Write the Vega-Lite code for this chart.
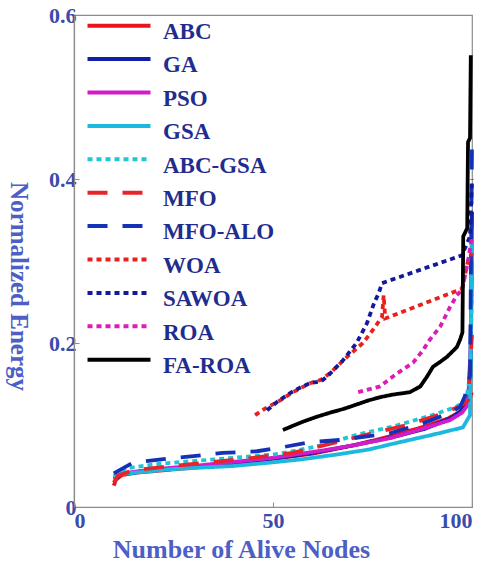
{
  "$schema": "https://vega.github.io/schema/vega-lite/v6.json",
  "width": 398,
  "height": 492,
  "autosize": {"type": "none"},
  "padding": {"left": 74, "top": 15, "right": 8, "bottom": 55},
  "background": "white",
  "config": {
    "font": "Liberation Serif",
    "view": {"stroke": "#8c8c8c", "strokeWidth": 1.2},
    "axis": {
      "grid": false,
      "domainColor": "#8c8c8c",
      "domainWidth": 1.2,
      "tickColor": "#8c8c8c",
      "tickSize": -5,
      "labelFont": "Liberation Serif",
      "labelFontWeight": "bold",
      "labelFontSize": 22,
      "labelColor": "#3b4bab",
      "titleFont": "Liberation Serif",
      "titleFontWeight": "bold",
      "titleFontSize": 25,
      "titleColor": "#4d5fc4"
    }
  },
  "data": {
    "values": [
      {"m": "ABC", "x": 10, "y": 0.026}, {"m": "ABC", "x": 10.5, "y": 0.033}, {"m": "ABC", "x": 12, "y": 0.039}, {"m": "ABC", "x": 16, "y": 0.042}, {"m": "ABC", "x": 23, "y": 0.045}, {"m": "ABC", "x": 30, "y": 0.048}, {"m": "ABC", "x": 40, "y": 0.053}, {"m": "ABC", "x": 52, "y": 0.06}, {"m": "ABC", "x": 60, "y": 0.065}, {"m": "ABC", "x": 71, "y": 0.076}, {"m": "ABC", "x": 80, "y": 0.087}, {"m": "ABC", "x": 88, "y": 0.098}, {"m": "ABC", "x": 94, "y": 0.108}, {"m": "ABC", "x": 97, "y": 0.116}, {"m": "ABC", "x": 98.8, "y": 0.127}, {"m": "ABC", "x": 99.6, "y": 0.135}, {"m": "ABC", "x": 100, "y": 0.14},
      {"m": "GA", "x": 10, "y": 0.034}, {"m": "GA", "x": 12, "y": 0.04}, {"m": "GA", "x": 20, "y": 0.045}, {"m": "GA", "x": 30, "y": 0.049}, {"m": "GA", "x": 40, "y": 0.054}, {"m": "GA", "x": 50, "y": 0.059}, {"m": "GA", "x": 60, "y": 0.066}, {"m": "GA", "x": 70, "y": 0.075}, {"m": "GA", "x": 80, "y": 0.085}, {"m": "GA", "x": 88, "y": 0.095}, {"m": "GA", "x": 94.5, "y": 0.108}, {"m": "GA", "x": 97.5, "y": 0.118}, {"m": "GA", "x": 99, "y": 0.13}, {"m": "GA", "x": 99.6, "y": 0.16}, {"m": "GA", "x": 100, "y": 0.36},
      {"m": "PSO", "x": 10, "y": 0.035}, {"m": "PSO", "x": 12, "y": 0.041}, {"m": "PSO", "x": 20, "y": 0.046}, {"m": "PSO", "x": 30, "y": 0.05}, {"m": "PSO", "x": 40, "y": 0.055}, {"m": "PSO", "x": 50, "y": 0.06}, {"m": "PSO", "x": 62.6, "y": 0.069}, {"m": "PSO", "x": 70, "y": 0.075}, {"m": "PSO", "x": 79.4, "y": 0.084}, {"m": "PSO", "x": 88, "y": 0.096}, {"m": "PSO", "x": 94.5, "y": 0.106}, {"m": "PSO", "x": 97.5, "y": 0.115}, {"m": "PSO", "x": 99, "y": 0.125}, {"m": "PSO", "x": 99.7, "y": 0.2}, {"m": "PSO", "x": 100, "y": 0.3},
      {"m": "GSA", "x": 10, "y": 0.036}, {"m": "GSA", "x": 11.5, "y": 0.04}, {"m": "GSA", "x": 24, "y": 0.046}, {"m": "GSA", "x": 40, "y": 0.05}, {"m": "GSA", "x": 49, "y": 0.054}, {"m": "GSA", "x": 57, "y": 0.058}, {"m": "GSA", "x": 66, "y": 0.064}, {"m": "GSA", "x": 74, "y": 0.07}, {"m": "GSA", "x": 80, "y": 0.077}, {"m": "GSA", "x": 90, "y": 0.088}, {"m": "GSA", "x": 97.7, "y": 0.097}, {"m": "GSA", "x": 99.5, "y": 0.112}, {"m": "GSA", "x": 100, "y": 0.34},
      {"m": "ABC-GSA", "x": 10, "y": 0.038}, {"m": "ABC-GSA", "x": 13, "y": 0.047}, {"m": "ABC-GSA", "x": 20, "y": 0.052}, {"m": "ABC-GSA", "x": 30, "y": 0.056}, {"m": "ABC-GSA", "x": 40, "y": 0.06}, {"m": "ABC-GSA", "x": 50, "y": 0.064}, {"m": "ABC-GSA", "x": 54, "y": 0.067}, {"m": "ABC-GSA", "x": 62, "y": 0.075}, {"m": "ABC-GSA", "x": 71, "y": 0.088}, {"m": "ABC-GSA", "x": 80, "y": 0.098}, {"m": "ABC-GSA", "x": 90, "y": 0.112}, {"m": "ABC-GSA", "x": 96, "y": 0.122}, {"m": "ABC-GSA", "x": 98.5, "y": 0.13}, {"m": "ABC-GSA", "x": 99.5, "y": 0.16}, {"m": "ABC-GSA", "x": 100, "y": 0.26},
      {"m": "MFO", "x": 10, "y": 0.03}, {"m": "MFO", "x": 11, "y": 0.038}, {"m": "MFO", "x": 15, "y": 0.045}, {"m": "MFO", "x": 25, "y": 0.05}, {"m": "MFO", "x": 35, "y": 0.055}, {"m": "MFO", "x": 45, "y": 0.06}, {"m": "MFO", "x": 55, "y": 0.066}, {"m": "MFO", "x": 66.8, "y": 0.08}, {"m": "MFO", "x": 75, "y": 0.09}, {"m": "MFO", "x": 83.7, "y": 0.1}, {"m": "MFO", "x": 92.7, "y": 0.114}, {"m": "MFO", "x": 97, "y": 0.123}, {"m": "MFO", "x": 99, "y": 0.13}, {"m": "MFO", "x": 100, "y": 0.21},
      {"m": "MFO-ALO", "x": 10, "y": 0.041}, {"m": "MFO-ALO", "x": 14.8, "y": 0.054}, {"m": "MFO-ALO", "x": 23.4, "y": 0.059}, {"m": "MFO-ALO", "x": 30, "y": 0.062}, {"m": "MFO-ALO", "x": 37.4, "y": 0.066}, {"m": "MFO-ALO", "x": 46, "y": 0.068}, {"m": "MFO-ALO", "x": 52.5, "y": 0.073}, {"m": "MFO-ALO", "x": 59.3, "y": 0.079}, {"m": "MFO-ALO", "x": 67.6, "y": 0.082}, {"m": "MFO-ALO", "x": 79.4, "y": 0.09}, {"m": "MFO-ALO", "x": 87.7, "y": 0.102}, {"m": "MFO-ALO", "x": 94.5, "y": 0.115}, {"m": "MFO-ALO", "x": 97, "y": 0.122}, {"m": "MFO-ALO", "x": 98.2, "y": 0.135}, {"m": "MFO-ALO", "x": 99.5, "y": 0.16}, {"m": "MFO-ALO", "x": 100, "y": 0.44},
      {"m": "WOA", "x": 45.5, "y": 0.112}, {"m": "WOA", "x": 48, "y": 0.12}, {"m": "WOA", "x": 51.8, "y": 0.13}, {"m": "WOA", "x": 55, "y": 0.14}, {"m": "WOA", "x": 59.3, "y": 0.151}, {"m": "WOA", "x": 62, "y": 0.155}, {"m": "WOA", "x": 64.3, "y": 0.163}, {"m": "WOA", "x": 68.6, "y": 0.183}, {"m": "WOA", "x": 72.6, "y": 0.2}, {"m": "WOA", "x": 75.1, "y": 0.216}, {"m": "WOA", "x": 77.4, "y": 0.232}, {"m": "WOA", "x": 77.8, "y": 0.258}, {"m": "WOA", "x": 78.2, "y": 0.23}, {"m": "WOA", "x": 97.5, "y": 0.266}, {"m": "WOA", "x": 99, "y": 0.3}, {"m": "WOA", "x": 100, "y": 0.31},
      {"m": "SAWOA", "x": 48.5, "y": 0.118}, {"m": "SAWOA", "x": 51, "y": 0.128}, {"m": "SAWOA", "x": 54.3, "y": 0.139}, {"m": "SAWOA", "x": 57, "y": 0.146}, {"m": "SAWOA", "x": 59.3, "y": 0.151}, {"m": "SAWOA", "x": 62, "y": 0.153}, {"m": "SAWOA", "x": 63.6, "y": 0.159}, {"m": "SAWOA", "x": 67.6, "y": 0.179}, {"m": "SAWOA", "x": 71, "y": 0.2}, {"m": "SAWOA", "x": 73.6, "y": 0.224}, {"m": "SAWOA", "x": 75.5, "y": 0.25}, {"m": "SAWOA", "x": 76.5, "y": 0.26}, {"m": "SAWOA", "x": 77.4, "y": 0.273}, {"m": "SAWOA", "x": 97.5, "y": 0.307}, {"m": "SAWOA", "x": 99.5, "y": 0.33}, {"m": "SAWOA", "x": 100, "y": 0.4},
      {"m": "ROA", "x": 71.4, "y": 0.14}, {"m": "ROA", "x": 76.9, "y": 0.147}, {"m": "ROA", "x": 79, "y": 0.155}, {"m": "ROA", "x": 81.2, "y": 0.163}, {"m": "ROA", "x": 85.2, "y": 0.176}, {"m": "ROA", "x": 87.5, "y": 0.19}, {"m": "ROA", "x": 89.4, "y": 0.204}, {"m": "ROA", "x": 92, "y": 0.22}, {"m": "ROA", "x": 94.5, "y": 0.244}, {"m": "ROA", "x": 96.2, "y": 0.258}, {"m": "ROA", "x": 97.5, "y": 0.265}, {"m": "ROA", "x": 99, "y": 0.3}, {"m": "ROA", "x": 100, "y": 0.33},
      {"m": "FA-ROA", "x": 52.5, "y": 0.094}, {"m": "FA-ROA", "x": 55, "y": 0.099}, {"m": "FA-ROA", "x": 57.5, "y": 0.104}, {"m": "FA-ROA", "x": 61, "y": 0.11}, {"m": "FA-ROA", "x": 64.3, "y": 0.115}, {"m": "FA-ROA", "x": 68, "y": 0.12}, {"m": "FA-ROA", "x": 71, "y": 0.125}, {"m": "FA-ROA", "x": 74, "y": 0.13}, {"m": "FA-ROA", "x": 77, "y": 0.134}, {"m": "FA-ROA", "x": 80, "y": 0.137}, {"m": "FA-ROA", "x": 84.4, "y": 0.14}, {"m": "FA-ROA", "x": 87, "y": 0.147}, {"m": "FA-ROA", "x": 88.7, "y": 0.159}, {"m": "FA-ROA", "x": 90.2, "y": 0.171}, {"m": "FA-ROA", "x": 92, "y": 0.177}, {"m": "FA-ROA", "x": 93.7, "y": 0.183}, {"m": "FA-ROA", "x": 96.2, "y": 0.195}, {"m": "FA-ROA", "x": 97, "y": 0.204}, {"m": "FA-ROA", "x": 97.6, "y": 0.213}, {"m": "FA-ROA", "x": 97.8, "y": 0.33}, {"m": "FA-ROA", "x": 98.8, "y": 0.34}, {"m": "FA-ROA", "x": 99, "y": 0.445}, {"m": "FA-ROA", "x": 99.5, "y": 0.45}, {"m": "FA-ROA", "x": 99.7, "y": 0.551}
    ]
  },
  "mark": {"type": "line", "strokeWidth": 3.8, "clip": false},
  "encoding": {
    "x": {
      "field": "x", "type": "quantitative",
      "scale": {"domain": [0, 100], "nice": false, "zero": false},
      "axis": {"values": [0, 50, 100], "title": "Number of Alive Nodes", "labelPadding": 8, "titleFontSize": 26, "titleX": 167, "titleY": 42, "titleBaseline": "middle", "titleAlign": "center"}
    },
    "y": {
      "field": "y", "type": "quantitative",
      "scale": {"domain": [0, 0.6], "nice": false},
      "axis": {"values": [0, 0.2, 0.4, 0.6], "format": "~g", "title": "Normalized Energy", "labelPadding": 3, "titleAngle": 90, "titleX": -56, "titleY": 271, "titleBaseline": "middle", "titleAlign": "center"}
    },
    "color": {
      "field": "m", "type": "nominal",
      "scale": {
        "domain": ["ABC", "GA", "PSO", "GSA", "ABC-GSA", "MFO", "MFO-ALO", "WOA", "SAWOA", "ROA", "FA-ROA"],
        "range": ["#e8141a", "#0f1fa6", "#d21ccc", "#1cb9df", "#22c4d8", "#e8242a", "#1432b8", "#e8201e", "#14189a", "#dc1cb4", "#000000"]
      },
      "legend": {
        "title": null,
        "orient": "none",
        "legendX": 32.5,
        "legendY": 4.5,
        "padding": 0,
        "symbolType": "M-3,-0.6H3",
        "symbolSize": 441,
        "symbolStrokeWidth": 4,
        "rowPadding": 6.4,
        "labelOffset": 31.5,
        "labelFont": "Liberation Serif",
        "labelFontWeight": "bold",
        "labelFontSize": 23,
        "labelColor": "#1f2d8f",
        "labelBaseline": "middle",
        "labelLimit": 300
      }
    },
    "strokeDash": {
      "field": "m", "type": "nominal",
      "scale": {
        "domain": ["ABC", "GA", "PSO", "GSA", "ABC-GSA", "MFO", "MFO-ALO", "WOA", "SAWOA", "ROA", "FA-ROA"],
        "range": [[1, 0], [1, 0], [1, 0], [1, 0], [5, 4], [20, 15], [20, 15], [5, 4], [5, 4], [5, 4], [1, 0]]
      },
      "legend": {
        "title": null,
        "orient": "none",
        "legendX": 32.5,
        "legendY": 4.5,
        "padding": 0,
        "symbolType": "M-3,-0.6H3",
        "symbolSize": 441,
        "symbolStrokeWidth": 4,
        "rowPadding": 6.4,
        "labelOffset": 31.5,
        "labelFont": "Liberation Serif",
        "labelFontWeight": "bold",
        "labelFontSize": 23,
        "labelColor": "#1f2d8f",
        "labelBaseline": "middle",
        "labelLimit": 300
      }
    }
  }
}
